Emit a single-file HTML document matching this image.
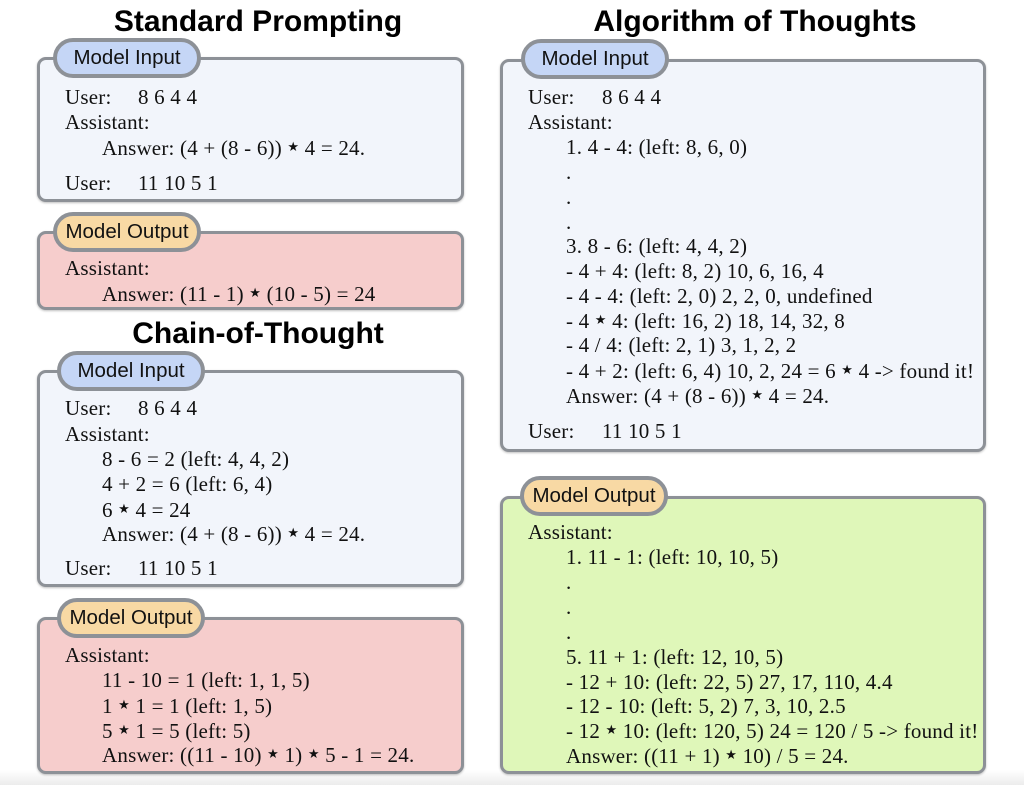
<!DOCTYPE html>
<html><head><meta charset="utf-8"><style>
body{margin:0;width:1024px;height:785px;background:#fff;position:relative;overflow:hidden;font-family:"Liberation Serif",serif;}
.bg{position:absolute;left:0;top:770px;width:1024px;height:15px;background:linear-gradient(#fff,#ececec);}
.box{position:absolute;border:3px solid #8d9197;border-radius:9px;box-sizing:border-box;box-shadow:0 1px 2px rgba(0,0,0,.25);}
.in{background:#f2f5fb}.red{background:#f6cdcc}.grn{background:#dff7b9}
.pill{position:absolute;height:40px;border:4px solid #8d9197;border-radius:20px;box-sizing:border-box;font-family:"Liberation Sans",sans-serif;font-size:20.5px;line-height:32px;text-align:center;color:#111;}
.pb{background:#c5d6f6}.po{background:#f8d9a4}
.h{position:absolute;font-family:"Liberation Sans",sans-serif;font-weight:bold;font-size:30px;color:#000;text-align:center;width:500px;line-height:32px}
.t{position:absolute;font-size:21px;letter-spacing:0.2px;line-height:24px;color:#111;white-space:pre;}
s{text-decoration:none;font-size:13px;vertical-align:4px;}
</style></head><body>
<div class="bg"></div>
<div class="h" style="left:8px;top:6px">Standard Prompting</div>
<div class="h" style="left:8px;top:318px">Chain-of-Thought</div>
<div class="h" style="left:505px;top:6px">Algorithm of Thoughts</div>

<div class="box in" style="left:37px;top:57px;width:427px;height:145px"></div>
<div class="pill pb" style="left:53px;top:38px;width:148px">Model Input</div>
<div class="t" style="left:65px;top:85px">User:</div><div class="t" style="left:138px;top:85px">8 6 4 4</div>
<div class="t" style="left:65px;top:110px">Assistant:</div>
<div class="t" style="left:102px;top:135px">Answer: (4 + (8 - 6)) <s>★</s> 4 = 24.</div>
<div class="t" style="left:65px;top:171px">User:</div><div class="t" style="left:138px;top:171px">11 10 5 1</div>

<div class="box red" style="left:37px;top:231px;width:427px;height:79px"></div>
<div class="pill po" style="left:53px;top:212px;width:148px">Model Output</div>
<div class="t" style="left:65px;top:256px">Assistant:</div>
<div class="t" style="left:102px;top:281px">Answer: (11 - 1) <s>★</s> (10 - 5) = 24</div>

<div class="box in" style="left:37px;top:370px;width:427px;height:217px"></div>
<div class="pill pb" style="left:57px;top:351px;width:148px">Model Input</div>
<div class="t" style="left:65px;top:396px">User:</div><div class="t" style="left:138px;top:396px">8 6 4 4</div>
<div class="t" style="left:65px;top:422px">Assistant:</div>
<div class="t" style="left:102px;top:447px">8 - 6 = 2 (left: 4, 4, 2)</div>
<div class="t" style="left:102px;top:472px">4 + 2 = 6 (left: 6, 4)</div>
<div class="t" style="left:102px;top:497px">6 <s>★</s> 4 = 24</div>
<div class="t" style="left:102px;top:521px">Answer: (4 + (8 - 6)) <s>★</s> 4 = 24.</div>
<div class="t" style="left:65px;top:556px">User:</div><div class="t" style="left:138px;top:556px">11 10 5 1</div>

<div class="box red" style="left:37px;top:617px;width:427px;height:157px"></div>
<div class="pill po" style="left:57px;top:598px;width:148px">Model Output</div>
<div class="t" style="left:65px;top:643px">Assistant:</div>
<div class="t" style="left:102px;top:668px">11 - 10 = 1 (left: 1, 1, 5)</div>
<div class="t" style="left:102px;top:693px">1 <s>★</s> 1 = 1 (left: 1, 5)</div>
<div class="t" style="left:102px;top:718px">5 <s>★</s> 1 = 5 (left: 5)</div>
<div class="t" style="left:102px;top:742px">Answer: ((11 - 10) <s>★</s> 1) <s>★</s> 5 - 1 = 24.</div>

<div class="box in" style="left:500px;top:59px;width:486px;height:393px"></div>
<div class="pill pb" style="left:521px;top:39px;width:148px">Model Input</div>
<div class="t" style="left:528px;top:85px">User:</div><div class="t" style="left:602px;top:85px">8 6 4 4</div>
<div class="t" style="left:528px;top:110px">Assistant:</div>
<div class="t" style="left:566px;top:135px">1. 4 - 4: (left: 8, 6, 0)</div>
<div class="t" style="left:566px;top:160px">.</div>
<div class="t" style="left:566px;top:185px">.</div>
<div class="t" style="left:566px;top:210px">.</div>
<div class="t" style="left:566px;top:234px">3. 8 - 6: (left: 4, 4, 2)</div>
<div class="t" style="left:566px;top:259px">- 4 + 4: (left: 8, 2) 10, 6, 16, 4</div>
<div class="t" style="left:566px;top:284px">- 4 - 4: (left: 2, 0) 2, 2, 0, undefined</div>
<div class="t" style="left:566px;top:308px">- 4 <s>★</s> 4: (left: 16, 2) 18, 14, 32, 8</div>
<div class="t" style="left:566px;top:333px">- 4 / 4: (left: 2, 1) 3, 1, 2, 2</div>
<div class="t" style="left:566px;top:358px">- 4 + 2: (left: 6, 4) 10, 2, 24 = 6 <s>★</s> 4 -&gt; found it!</div>
<div class="t" style="left:566px;top:383px">Answer: (4 + (8 - 6)) <s>★</s> 4 = 24.</div>
<div class="t" style="left:528px;top:419px">User:</div><div class="t" style="left:602px;top:419px">11 10 5 1</div>

<div class="box grn" style="left:500px;top:496px;width:486px;height:278px"></div>
<div class="pill po" style="left:520px;top:476px;width:148px">Model Output</div>
<div class="t" style="left:528px;top:520px">Assistant:</div>
<div class="t" style="left:566px;top:545px">1. 11 - 1: (left: 10, 10, 5)</div>
<div class="t" style="left:566px;top:570px">.</div>
<div class="t" style="left:566px;top:595px">.</div>
<div class="t" style="left:566px;top:620px">.</div>
<div class="t" style="left:566px;top:645px">5. 11 + 1: (left: 12, 10, 5)</div>
<div class="t" style="left:566px;top:670px">- 12 + 10: (left: 22, 5) 27, 17, 110, 4.4</div>
<div class="t" style="left:566px;top:694px">- 12 - 10: (left: 5, 2) 7, 3, 10, 2.5</div>
<div class="t" style="left:566px;top:718px">- 12 <s>★</s> 10: (left: 120, 5) 24 = 120 / 5 -&gt; found it!</div>
<div class="t" style="left:566px;top:743px">Answer: ((11 + 1) <s>★</s> 10) / 5 = 24.</div>
</body></html>
